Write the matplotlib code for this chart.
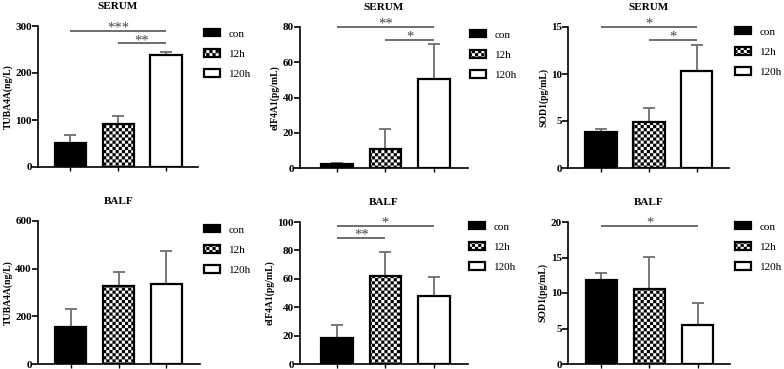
import warnings
import numpy as np
import matplotlib
matplotlib.use("Agg")
import matplotlib.pyplot as plt
import matplotlib.hatch as mhatch
from matplotlib.path import Path

warnings.filterwarnings("ignore")

# ---------------- data ----------------
groups = ["con", "12h", "120h"]
titles = ["SERUM", "SERUM", "SERUM", "BALF", "BALF", "BALF"]
ylabels = ["TUBA4A(ng/L)", "eIF4A1(pg/mL)", "SOD1(pg/mL)",
           "TUBA4A(ng/L)", "eIF4A1(pg/mL)", "SOD1(pg/mL)"]

serum_tuba_mean = [51, 91, 237.5]
serum_tuba_err = [17, 18, 7.5]
serum_eif_mean = [2.0, 10.7, 50.6]
serum_eif_err = [0.8, 11.5, 19.6]
serum_sod_mean = [3.85, 4.87, 10.3]
serum_sod_err = [0.28, 1.55, 2.8]
balf_tuba_mean = [154, 327, 336]
balf_tuba_err = [75, 60, 139]
balf_eif_mean = [18.5, 62, 48.2]
balf_eif_err = [8.7, 17, 12.9]
balf_sod_mean = [11.9, 10.54, 5.53]
balf_sod_err = [0.93, 4.54, 3.09]

means = [serum_tuba_mean, serum_eif_mean, serum_sod_mean,
         balf_tuba_mean, balf_eif_mean, balf_sod_mean]
errs = [serum_tuba_err, serum_eif_err, serum_sod_err,
        balf_tuba_err, balf_eif_err, balf_sod_err]
ymaxs = [300, 80, 15, 600, 100, 20]
ysteps = [100, 20, 5, 200, 20, 5]

# significance: (group i, group j, line height, label)
sig_serum_tuba = [(0, 2, 290, "***"), (1, 2, 263, "**")]
sig_serum_eif = [(0, 2, 80, "**"), (1, 2, 72.5, "*")]
sig_serum_sod = [(0, 2, 15.0, "*"), (1, 2, 13.6, "*")]
sig_balf_tuba = []
sig_balf_eif = [(0, 2, 97.2, "*"), (0, 1, 89, "**")]
sig_balf_sod = [(0, 2, 19.5, "*")]
sigs = [sig_serum_tuba, sig_serum_eif, sig_serum_sod,
        sig_balf_tuba, sig_balf_eif, sig_balf_sod]


# ---------------- custom checkerboard hatch ----------------
class CheckerHatch(mhatch.HatchPatternBase):
    def __init__(self, hatch, density):
        self.n = 16 * hatch.count("c")
        self.num_vertices = 5 * (self.n * self.n // 2) if self.n else 0

    def set_vertices_and_codes(self, vertices, codes):
        n = self.n
        s = 1.0 / n
        k = 0
        for i in range(n):
            for j in range(n):
                if (i + j) % 2 == 0:
                    x0, y0 = i * s, j * s
                    vertices[k:k + 5] = [(x0, y0), (x0 + s, y0), (x0 + s, y0 + s),
                                         (x0, y0 + s), (x0, y0)]
                    codes[k] = Path.MOVETO
                    codes[k + 1:k + 4] = Path.LINETO
                    codes[k + 4] = Path.CLOSEPOLY
                    k += 5


mhatch._hatch_types.append(CheckerHatch)

plt.rcParams["font.family"] = ["Liberation Serif", "DejaVu Serif"]
plt.rcParams["hatch.linewidth"] = 0.05

W, H = 784, 369
fig = plt.figure(figsize=(W / 100, H / 100), dpi=100)

# axes rectangles in pixel coords: left, right, top, bottom
rects = [(38, 198, 26, 167), (300, 468, 27, 168), (568, 729, 27, 168),
         (38, 200, 221, 364), (300, 468, 222, 364), (568, 730, 222, 364)]
legend_pos = [(204, 29), (470, 30), (735, 27), (204, 225), (469, 222), (735, 222)]
xlims = [(-0.68, 2.67), (-0.76, 2.7), (-0.69, 2.67),
         (-0.68, 2.7), (-0.76, 2.7), (-0.69, 2.67)]

faces = ["black", "white", "white"]
hatches = [None, "cc", None]
x = np.arange(len(groups))

for k in range(6):
    l, r, t, b = rects[k]
    ax = fig.add_axes([l / W, 1 - b / H, (r - l) / W, (b - t) / H])
    m = means[k]
    e = errs[k]
    ax.errorbar(x, m, yerr=[np.zeros(3), e], fmt="none", ecolor="#6e6e6e",
                elinewidth=1.3, capsize=4.5, capthick=1.3, zorder=1)
    bars = ax.bar(x, m, width=0.65, color=faces, edgecolor="black",
                  linewidth=1.6, zorder=2)
    for bar, h, lab in zip(bars, hatches, groups):
        if h:
            bar.set_hatch(h)
        bar.set_label(lab)
    for (i, j, yv, lab) in sigs[k]:
        ax.plot([x[i], x[j]], [yv, yv], color="#555555", lw=1.2,
                solid_capstyle="butt", clip_on=False, zorder=3)
        ax.annotate(lab, xy=((x[i] + x[j]) / 2, yv), xytext=(0, -0.5),
                    textcoords="offset points", ha="center", va="baseline",
                    fontsize=10.5, color="#444444", annotation_clip=False)
    ax.set_ylim(0, ymaxs[k])
    ax.set_yticks(np.arange(0, ymaxs[k] + 1e-9, ysteps[k]))
    ax.set_xlim(*xlims[k])
    ax.set_xticks(x)
    ax.set_xticklabels([])
    for lab in ax.get_yticklabels():
        lab.set_fontweight("bold")
    ax.tick_params(axis="y", length=4, width=1.2, labelsize=8, pad=0.5)
    ax.tick_params(axis="x", length=3, width=1.0)
    for sp in ["top", "right"]:
        ax.spines[sp].set_visible(False)
    for sp in ["left", "bottom"]:
        ax.spines[sp].set_linewidth(1.2)
    ax.set_ylabel(ylabels[k], fontsize=7, fontweight="bold", labelpad=2)
    ax.set_title(titles[k], fontsize=8, fontweight="bold", pad=12)
    lx, ly = legend_pos[k]
    ax.legend(loc="upper left", bbox_to_anchor=(lx / W, 1 - ly / H),
              bbox_transform=fig.transFigure, frameon=False, fontsize=8,
              borderpad=0, borderaxespad=0, handlelength=1.45,
              handleheight=0.65, handletextpad=0.8, labelspacing=0.95)

fig.savefig("out.png", dpi=100)
